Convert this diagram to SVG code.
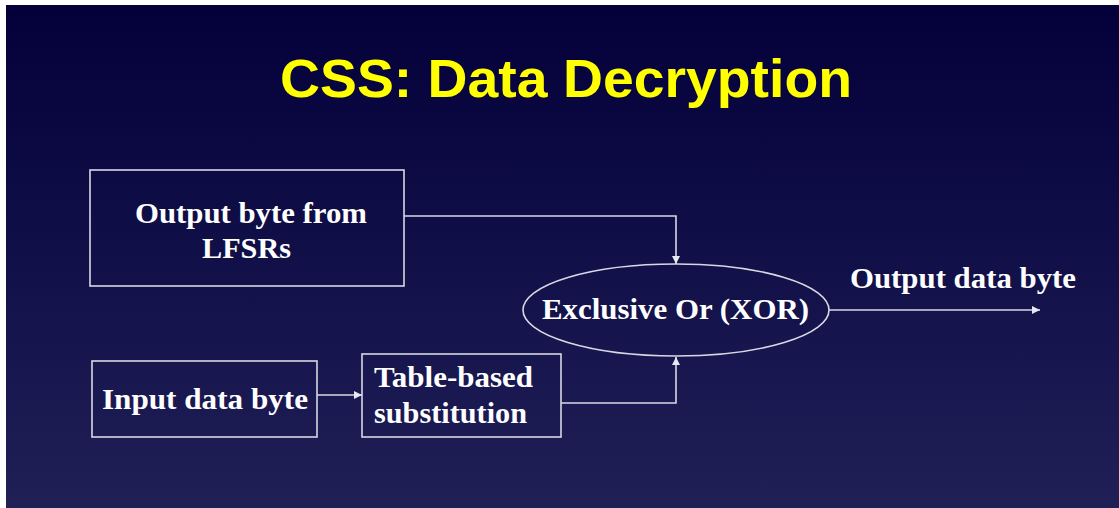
<svg xmlns="http://www.w3.org/2000/svg" width="1119" height="508" viewBox="0 0 1119 508">
  <defs>
    <linearGradient id="bg" x1="0" y1="0" x2="0" y2="1">
      <stop offset="0" stop-color="#03003a"/>
      <stop offset="1" stop-color="#201f56"/>
    </linearGradient>
    <marker id="arrow" viewBox="0 0 10 10" refX="10" refY="5" markerWidth="10" markerHeight="8" markerUnits="userSpaceOnUse" orient="auto">
      <path d="M0,0 L10,5 L0,10 z" fill="#e8e8f0"/>
    </marker>
  </defs>
  <style>
    .shape { fill: none; stroke: #d8d8e4; stroke-width: 1.6; }
    .wire { fill: none; stroke: #d8d8e4; stroke-width: 1.6; }
    .label { fill: #ffffff; font-family: "Liberation Serif", "Times New Roman", serif; font-weight: bold; font-size: 29px; }
    .title { fill: #ffff00; font-family: "Liberation Sans", Arial, sans-serif; font-weight: bold; font-size: 53px; }
  </style>

  <!-- page and slide background -->
  <rect x="0" y="0" width="1119" height="508" fill="#ffffff"/>
  <rect x="6" y="5" width="1113" height="503" fill="url(#bg)"/>

  <text class="title" x="280" y="97" textLength="572" lengthAdjust="spacingAndGlyphs">CSS: Data Decryption</text>

  <g id="lfsr-output">
    <rect class="shape" x="90" y="170" width="314" height="116"/>
    <text class="label" x="135" y="223" textLength="232" lengthAdjust="spacingAndGlyphs">Output byte from</text>
    <text class="label" x="202" y="258" textLength="89" lengthAdjust="spacingAndGlyphs">LFSRs</text>
  </g>

  <g id="xor">
    <ellipse class="shape" cx="676" cy="310" rx="153" ry="46"/>
    <text class="label" x="542" y="319" textLength="267" lengthAdjust="spacingAndGlyphs">Exclusive Or (XOR)</text>
  </g>

  <g id="output-label">
    <text class="label" x="850" y="288" textLength="226" lengthAdjust="spacingAndGlyphs">Output data byte</text>
  </g>

  <g id="input-byte">
    <rect class="shape" x="92" y="361" width="225" height="76"/>
    <text class="label" x="102" y="409" textLength="206" lengthAdjust="spacingAndGlyphs">Input data byte</text>
  </g>

  <g id="substitution">
    <rect class="shape" x="362" y="354" width="199" height="83"/>
    <text class="label" x="374" y="387" textLength="159" lengthAdjust="spacingAndGlyphs">Table-based</text>
    <text class="label" x="374" y="423" textLength="153" lengthAdjust="spacingAndGlyphs">substitution</text>
  </g>

  <g id="connectors">
    <polyline class="wire" points="404,216 676,216 676,264" marker-end="url(#arrow)"/>
    <polyline class="wire" points="561,403 676,403 676,357" marker-end="url(#arrow)"/>
    <line class="wire" x1="317" y1="395" x2="362" y2="395" marker-end="url(#arrow)"/>
    <line class="wire" x1="829" y1="310" x2="1040" y2="310" marker-end="url(#arrow)"/>
  </g>
</svg>
